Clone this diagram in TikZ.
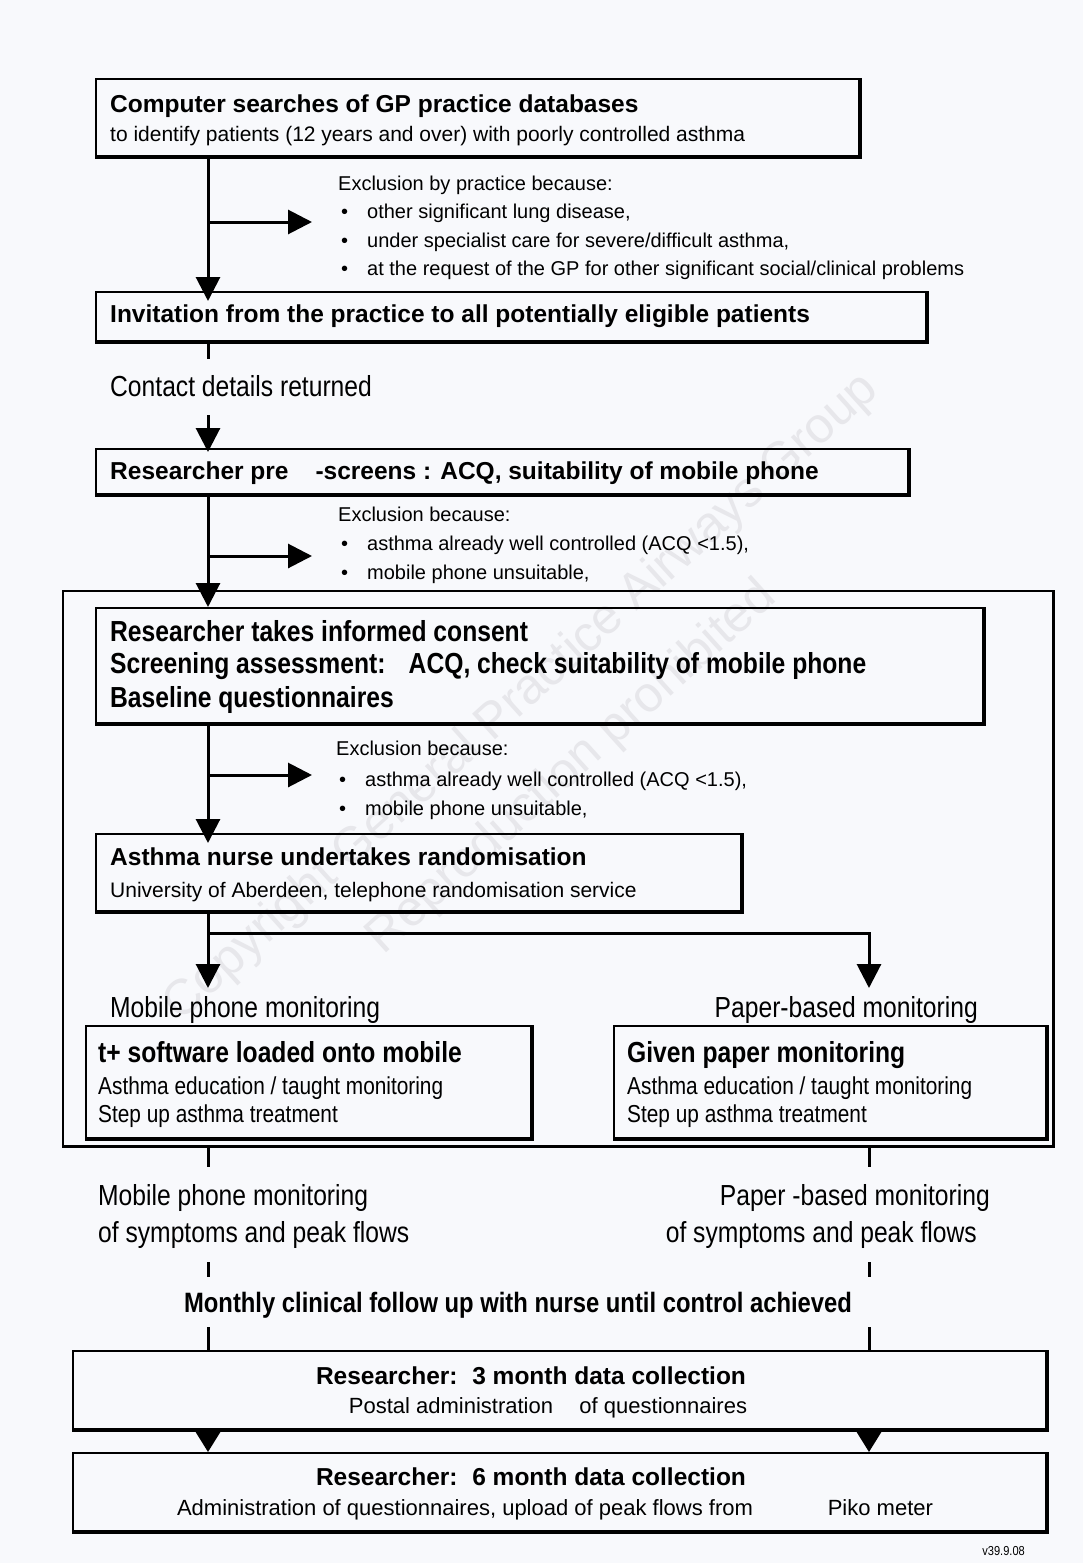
\documentclass[tikz,border=0pt]{standalone}
\usepackage{fontspec}
\setmainfont{Liberation Sans}
\newfontfamily\narrowfont{Liberation Sans}[FakeStretch=0.85]
\usetikzlibrary{arrows.meta}

\definecolor{sheet}{RGB}{248,249,252}
\definecolor{stamp}{RGB}{231,231,235}

% heavier right and bottom edge of a box
\newcommand{\heavyedge}[1]{\draw[line width=3.5pt] (#1.north east) -- (#1.south east) -- (#1.south west);}
% bullet in the exclusion lists
\newcommand{\bulitem}[1]{\makebox[26pt][l]{\textbullet}#1}

\begin{document}
\begin{tikzpicture}[x=1pt, y=-1pt,
  box/.style={draw, line width=1.8pt, anchor=north west, inner sep=0pt},
  flow/.style={line width=3pt, -{Triangle[length=24pt, width=24pt]}},
  stub/.style={line width=3pt},
  hd/.style={font=\fontsize{24.5}{29}\selectfont\bfseries, inner sep=0pt, anchor=mid west, yshift=-6.5pt},
  txt/.style={font=\fontsize{21}{25}\selectfont, inner sep=0pt, anchor=mid west, yshift=-5.5pt},
  excl/.style={font=\fontsize{20}{24}\selectfont, inner sep=0pt, anchor=mid west, yshift=-5pt},
  big/.style={font=\narrowfont\fontsize{29}{34}\selectfont, inner sep=0pt, anchor=mid west, yshift=-7.5pt},
  bighd/.style={font=\narrowfont\bfseries\fontsize{29}{34}\selectfont, inner sep=0pt, anchor=mid west, yshift=-7.5pt},
  small/.style={font=\narrowfont\fontsize{24.5}{29}\selectfont, inner sep=0pt, anchor=mid west, yshift=-6.5pt},
  stampText/.style={font=\fontsize{50}{60}\selectfont, text=stamp, rotate=42, inner sep=0pt}]

  % page
  \fill[sheet] (0,0) rectangle (1083,1563);
  \useasboundingbox (0,0) rectangle (1083,1563);

  % watermark
  \node[stampText] (wm1) at (522,698) {Copyright General Practice Airways Group};
  \node[stampText] (wm2) at (572,768) {Reproduction prohibited};

  % boxes
  \node[box, minimum width=763pt, minimum height=77pt] (search) at (95,78) {};
  \node[box, minimum width=830pt, minimum height=49pt] (invite) at (95,291) {};
  \node[box, minimum width=812pt, minimum height=45pt] (prescreen) at (95,448) {};
  \node[box, line width=1.5pt, minimum width=990pt, minimum height=555pt] (frame) at (62,590) {};
  \node[box, minimum width=887pt, minimum height=115pt] (consent) at (95,607) {};
  \node[box, minimum width=645pt, minimum height=77pt] (randomise) at (95,833) {};
  \node[box, minimum width=445pt, minimum height=112pt] (mobile) at (85,1025) {};
  \node[box, minimum width=432pt, minimum height=112pt] (paper) at (613,1025) {};
  \node[box, minimum width=973pt, minimum height=78pt] (month3) at (72,1350) {};
  \node[box, minimum width=973pt, minimum height=78pt] (month6) at (72,1452) {};

  % searching the practice lists
  \node[hd] (searchA) at (110,103) {Computer searches of GP practice databases};
  \node[txt] (searchB) at (110,133) {to identify patients (12 years and over) with poorly controlled asthma};
  \node[excl] (ex1) at (338,183) {Exclusion by practice because:};
  \node[excl] (ex1a) at (341,211) {\bulitem{other significant lung disease,}};
  \node[excl] (ex1b) at (341,240) {\bulitem{under specialist care for severe/difficult asthma,}};
  \node[excl] (ex1c) at (341,268) {\bulitem{at the request of the GP for other significant social/clinical problems}};
  \node[hd] (inviteA) at (110,313) {Invitation from the practice to all potentially eligible patients};
  \node[big] (contact) at (110,386) {Contact details returned};

  % pre-screening
  \node[hd] (prescreenA) at (110,470) {Researcher pre\hspace{1.1em}-screens : ACQ, suitability of mobile phone};
  \node[excl] (ex2) at (338,514) {Exclusion because:};
  \node[excl] (ex2a) at (341,543) {\bulitem{asthma already well controlled (ACQ <1.5),}};
  \node[excl] (ex2b) at (341,572) {\bulitem{mobile phone unsuitable,}};

  % consent and randomisation
  \node[bighd] (consentA) at (110,631) {Researcher takes informed consent};
  \node[bighd] (consentB) at (110,663) {Screening assessment:\hspace{0.8em}ACQ, check suitability of mobile phone};
  \node[bighd] (consentC) at (110,697) {Baseline questionnaires};
  \node[excl] (ex3) at (336,748) {Exclusion because:};
  \node[excl] (ex3a) at (339,779) {\bulitem{asthma already well controlled (ACQ <1.5),}};
  \node[excl] (ex3b) at (339,808) {\bulitem{mobile phone unsuitable,}};
  \node[hd] (randomiseA) at (110,856) {Asthma nurse undertakes randomisation};
  \node[txt] (randomiseB) at (110,889) {University of Aberdeen, telephone randomisation service};

  % the two arms
  \node[big] (armA) at (110,1007) {Mobile phone monitoring};
  \node[big, anchor=mid east] (armB) at (978,1007) {Paper-based monitoring};
  \node[bighd] (mobileA) at (98,1052) {t+ software loaded onto mobile};
  \node[small] (mobileB) at (98,1085) {Asthma education / taught monitoring};
  \node[small] (mobileC) at (98,1113) {Step up asthma treatment};
  \node[bighd] (paperA) at (627,1052) {Given paper monitoring};
  \node[small] (paperB) at (627,1085) {Asthma education / taught monitoring};
  \node[small] (paperC) at (627,1113) {Step up asthma treatment};

  % follow up
  \node[big] (trackA) at (98,1195) {Mobile phone monitoring};
  \node[big] (trackB) at (98,1232) {of symptoms and peak flows};
  \node[big, anchor=mid east] (trackC) at (990,1195) {Paper -based monitoring};
  \node[big, anchor=mid east] (trackD) at (977,1232) {of symptoms and peak flows};
  \node[bighd, font=\narrowfont\bfseries\fontsize{28}{33}\selectfont, anchor=mid] (review) at (518,1302) {Monthly clinical follow up with nurse until control achieved};
  \node[hd, anchor=mid] (month3A) at (531,1375) {Researcher:\hspace{0.6em}3 month data collection};
  \node[txt, font=\fontsize{22}{26}\selectfont, anchor=mid] (month3B) at (548,1405) {Postal administration\hspace{1.2em}of questionnaires};
  \node[hd, anchor=mid] (month6A) at (531,1476) {Researcher:\hspace{0.6em}6 month data collection};
  \node[txt, font=\fontsize{22}{26}\selectfont, anchor=mid] (month6B) at (555,1507) {Administration of questionnaires, upload of peak flows from\hspace{3.4em}Piko meter};
  \node[small, font=\narrowfont\fontsize{13}{15}\selectfont, anchor=mid east, yshift=1.5pt] (version) at (1025,1548) {v39.9.08};

  % connectors
  \coordinate (spine) at (208,0);
  \coordinate (rspine) at (869,0);
  \coordinate (cut1) at (208,222);
  \coordinate (cut2) at (208,556);
  \coordinate (cut3) at (208,775);
  \coordinate (gapA) at (208,359);
  \coordinate (gapB) at (208,415);
  \coordinate (split) at (208,933);
  \coordinate (armL) at (208,988);
  \coordinate (armR) at (869,988);

  \draw[flow, shorten >=-10pt] (search.south -| spine) -- (invite.north -| spine);
  \draw[flow, shorten >=26pt] (cut1) -- (cut1 -| ex1.west);
  \draw[stub] (invite.south -| spine) -- (gapA);
  \draw[flow, shorten >=-4pt] (gapB) -- (prescreen.north -| spine);
  \draw[flow] (prescreen.south -| spine) -- (consent.north -| spine);
  \draw[flow, shorten >=26pt] (cut2) -- (cut2 -| ex2.west);
  \draw[flow, shorten >=-10pt] (consent.south -| spine) -- (randomise.north -| spine);
  \draw[flow, shorten >=24pt] (cut3) -- (cut3 -| ex3.west);
  \draw[flow] (randomise.south -| spine) -- (armL);
  \draw[flow] (split) -| (armR);

  % broken lines below the arms
  \draw[stub] (frame.south -| spine) -- (208,1167);
  \draw[stub] (208,1262) -- (208,1277);
  \draw[stub] (208,1327) -- (month3.north -| spine);
  \draw[stub] (frame.south -| rspine) -- (869,1167);
  \draw[stub] (869,1262) -- (869,1277);
  \draw[stub] (869,1327) -- (month3.north -| rspine);
  \draw[flow, -{Triangle[length=20pt, width=24pt]}] (month3.south -| spine) -- (month6.north -| spine);
  \draw[flow, -{Triangle[length=20pt, width=24pt]}] (month3.south -| rspine) -- (month6.north -| rspine);

  % heavy edges
  \heavyedge{search}
  \heavyedge{invite}
  \heavyedge{prescreen}
  \heavyedge{frame}
  \heavyedge{consent}
  \heavyedge{randomise}
  \heavyedge{mobile}
  \heavyedge{paper}
  \heavyedge{month3}
  \heavyedge{month6}
\end{tikzpicture}
\end{document}
